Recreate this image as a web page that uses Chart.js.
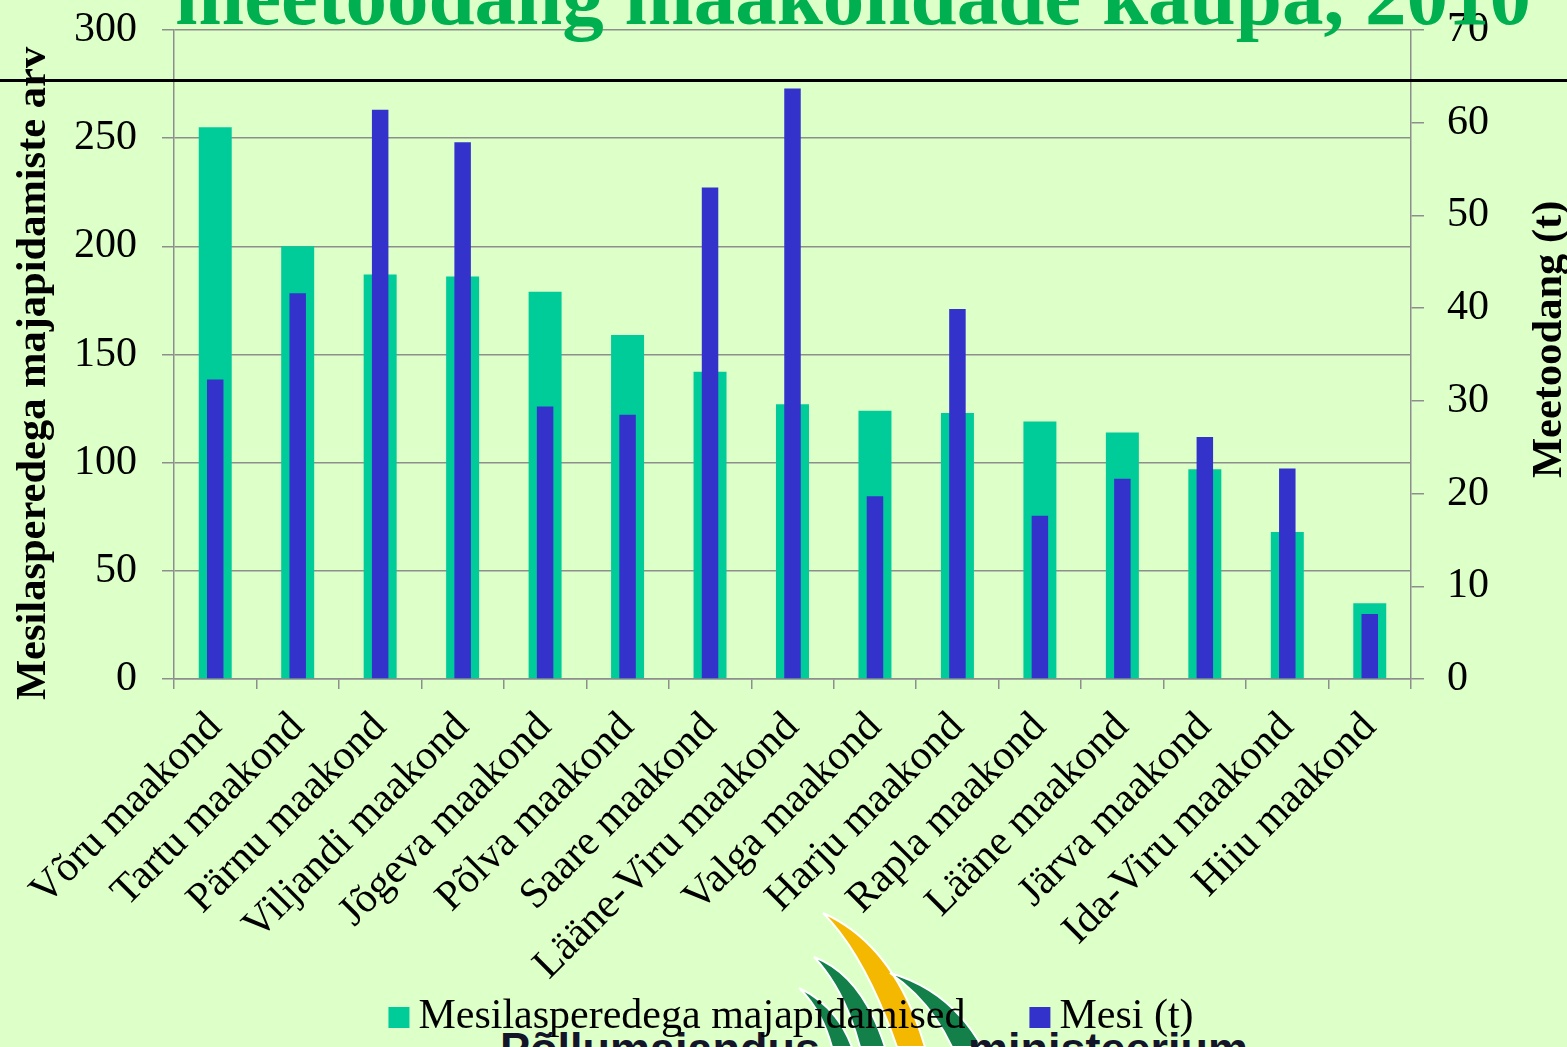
<!DOCTYPE html>
<html>
<head>
<meta charset="utf-8">
<script src="https://cdn.jsdelivr.net/npm/chart.js@4/dist/chart.umd.min.js"></script>
<style>
  html, body { margin: 0; padding: 0; background: rgb(221,255,200); overflow: hidden; }
  #wrap { position: relative; width: 1567px; height: 1047px; overflow: hidden; }
  #logo { position: absolute; left: 0; top: 0; z-index: 0; }
  .logotxt { position: absolute; z-index: 0; font: bold 45px "Liberation Sans", Arial, sans-serif; color: #15152a; line-height: 1; white-space: nowrap; }
  #c { position: absolute; left: 0; top: 0; z-index: 1; }
  #title { position: absolute; left: 175px; top: -45px; z-index: 2; font: bold 83px "Liberation Serif", "Times New Roman", serif; color: #00B050; line-height: 1; white-space: nowrap; }
  #rule { position: absolute; left: 0; top: 79px; width: 1567px; height: 3px; background: #000; z-index: 3; }
</style>
</head>
<body>
<div id="wrap">
  <svg id="logo" width="1567" height="1047" viewBox="0 0 1567 1047">
    <path d="M799,988 Q822,1010 832,1047 L852,1047 Q836,1005 799,988 Z" fill="#13804A" stroke="#ffffff" stroke-width="2"/>
    <path d="M814,957 Q845,990 860,1047 L885,1047 Q862,975 814,957 Z" fill="#13804A" stroke="#ffffff" stroke-width="2"/>
    <path d="M823,913 Q865,955 897,1047 L925,1047 Q895,945 823,913 Z" fill="#F5B800" stroke="#ffffff" stroke-width="2"/>
    <path d="M890,973 Q930,1000 952,1047 L982,1047 Q950,990 890,973 Z" fill="#13804A" stroke="#ffffff" stroke-width="2"/>
  </svg>
  <div class="logotxt" style="left:500px; top:1026px;">Põllumajandus</div>
  <div class="logotxt" style="left:968px; top:1026px;">ministeerium</div>
  <canvas id="c" width="1567" height="1047"></canvas>
  <div id="title">meetoodang maakondade kaupa, 2010</div>
  <div id="rule"></div>
</div>
<script>
const categories = ['Võru maakond', 'Tartu maakond', 'Pärnu maakond', 'Viljandi maakond', 'Jõgeva maakond',
  'Põlva maakond', 'Saare maakond', 'Lääne-Viru maakond', 'Valga maakond', 'Harju maakond',
  'Rapla maakond', 'Lääne maakond', 'Järva maakond', 'Ida-Viru maakond', 'Hiiu maakond'];
const households = [255, 200, 187, 186, 179, 159, 142, 127, 124, 123, 119, 114, 97, 68, 35];
const honey = [32.3, 41.6, 61.4, 57.9, 29.4, 28.5, 53.0, 63.7, 19.7, 39.9, 17.6, 21.6, 26.1, 22.7, 7.0];
const seriesNames = ['Mesilasperedega majapidamised', 'Mesi (t)'];
const leftAxisTitle = 'Mesilasperedega majapidamiste arv';
const rightAxisTitle = 'Meetoodang (t)';
const leftTicks = { min: 0, max: 300, step: 50 };
const rightTicks = { min: 0, max: 70, step: 10 };

const SERIF = '"Liberation Serif", "Times New Roman", serif';
const GRID = '#8e8e8e';

const axisTitles = {
  id: 'axisTitles',
  afterDraw(chart) {
    const ctx = chart.ctx;
    const draw = (text, x, y) => {
      ctx.save();
      ctx.fillStyle = '#000';
      ctx.font = 'bold 42.5px ' + SERIF;
      ctx.textAlign = 'left';
      ctx.textBaseline = 'alphabetic';
      ctx.translate(x, y);
      ctx.rotate(-Math.PI / 2);
      ctx.fillText(text, 0, 0);
      ctx.restore();
    };
    draw(leftAxisTitle, 45, 700);
    draw(rightAxisTitle, 1561, 478);
  }
};

// legend drawn from the chart's own datasets
const bottomLegend = {
  id: 'bottomLegend',
  afterDraw(chart) {
    const ctx = chart.ctx;
    ctx.save();
    ctx.font = '42px ' + SERIF;
    ctx.textBaseline = 'alphabetic';
    ctx.textAlign = 'left';
    const box = 21, gapText = 9, gapItem = 64, baseline = 1028, centerX = 791;
    const items = chart.data.datasets.map(ds => ({ text: ds.label, color: ds.backgroundColor, w: ctx.measureText(ds.label).width }));
    let total = 0;
    items.forEach((it, i) => { total += box + gapText + it.w + (i ? gapItem : 0); });
    let x = centerX - total / 2;
    items.forEach((it) => {
      ctx.fillStyle = it.color;
      ctx.fillRect(x, baseline - box, box, box);
      ctx.fillStyle = '#000';
      ctx.fillText(it.text, x + box + gapText, baseline);
      x += box + gapText + it.w + gapItem;
    });
    ctx.restore();
  }
};

const noPad = (s) => { s.paddingTop = 0; s.paddingBottom = 0; };

new Chart(document.getElementById('c'), {
  type: 'bar',
  data: {
    labels: categories,
    datasets: [
      {
        label: seriesNames[0],
        data: households,
        yAxisID: 'y',
        backgroundColor: '#00CC99',
        barPercentage: 0.4,
        categoryPercentage: 1,
        grouped: false,
        order: 2
      },
      {
        label: seriesNames[1],
        data: honey,
        yAxisID: 'y1',
        backgroundColor: '#3333CC',
        barPercentage: 0.2,
        categoryPercentage: 1,
        grouped: false,
        order: 1
      }
    ]
  },
  options: {
    responsive: false,
    animation: false,
    devicePixelRatio: 1,
    layout: { padding: { top: 30, left: 0, right: 0, bottom: 62 } },
    plugins: {
      title: { display: false },
      tooltip: { enabled: false },
      legend: { display: false }
    },
    scales: {
      x: {
        grid: { display: true, drawOnChartArea: false, drawTicks: true, tickLength: 10, color: GRID, lineWidth: 1.5, offset: true },
        border: { display: true, color: GRID, width: 1.5 },
        ticks: { font: { family: SERIF, size: 42 }, color: '#000', minRotation: 45, maxRotation: 45, autoSkip: false, padding: 14 },
        afterFit: (s) => { s.height = 306; s.paddingLeft = 0; s.paddingRight = 0; }
      },
      y: {
        position: 'left',
        min: leftTicks.min, max: leftTicks.max,
        grid: { color: GRID, lineWidth: 1.5, tickLength: 12 },
        border: { display: true, color: GRID, width: 1.5 },
        ticks: { stepSize: leftTicks.step, font: { family: SERIF, size: 42 }, color: '#000', padding: 25 },
        afterFit: (s) => { s.width = 174; noPad(s); }
      },
      y1: {
        position: 'right',
        min: rightTicks.min, max: rightTicks.max,
        grid: { drawOnChartArea: false, color: GRID, lineWidth: 1.5, tickLength: 13 },
        border: { display: true, color: GRID, width: 1.5 },
        ticks: { stepSize: rightTicks.step, font: { family: SERIF, size: 42 }, color: '#000', padding: 23 },
        afterFit: (s) => { s.width = 156; noPad(s); }
      }
    }
  },
  plugins: [axisTitles, bottomLegend]
});
</script>
</body>
</html>
